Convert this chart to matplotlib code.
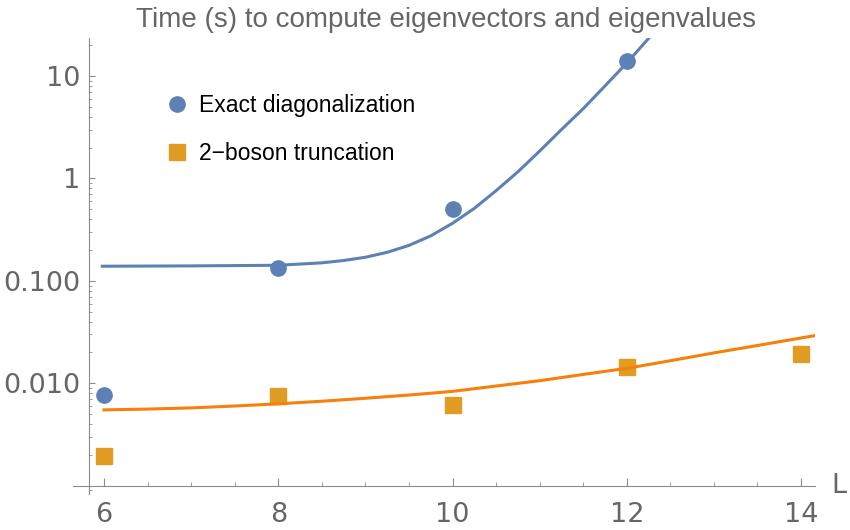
import numpy as np
import matplotlib
matplotlib.use("Agg")
import matplotlib.pyplot as plt
from matplotlib.ticker import LogLocator, MultipleLocator, NullFormatter

plt.rcParams['font.family'] = ['Liberation Sans', 'DejaVu Sans']

# measured times (s) vs system size L
L_pts = [6, 8, 10, 12]
t_exact = [0.00776, 0.134, 0.50, 14.0]

L_pts2 = [6, 8, 10, 12, 14]
t_trunc = [0.00193, 0.00754, 0.0062, 0.01456, 0.0194]

# fitted curves, values
L_fit_exact = [5.98, 7, 8, 8.5, 8.75, 9, 9.25, 9.5, 9.75, 10, 10.25, 10.5,
               10.75, 11, 11.25, 11.5, 11.75, 12, 12.3]
t_fit_exact = [0.139, 0.140, 0.142, 0.150, 0.158, 0.170, 0.190, 0.222, 0.275,
               0.365, 0.51, 0.76, 1.16, 1.85, 3.0, 4.8, 8.0, 13.4, 26.0]

L_fit_trunc = [6, 6.5, 7, 7.5, 8, 8.5, 9, 9.5, 10, 10.5, 11, 11.5, 12, 12.5,
               13, 13.5, 14, 14.16]
t_fit_trunc = [0.00550, 0.00560, 0.00575, 0.00600, 0.00630, 0.00668, 0.00714,
               0.00768, 0.00834, 0.0094, 0.0106, 0.0122, 0.0140, 0.0166,
               0.0198, 0.0234, 0.0277, 0.0292]

yticks = [0.01, 0.1, 1, 10]
ytick_labels = ["0.010", "0.100", "1", "10"]
xticks = [6, 8, 10, 12, 14]

blue = '#5E81B5'
orange_pt = '#E19C24'
orange_ln = '#F5800A'
axis_col = '#8c8c8c'
label_col = '#666666'

fig = plt.figure(figsize=(8.5, 5.3), dpi=100)
ax = fig.add_axes([73/850, 1-494/530, (815-73)/850, (494-38)/530])

ax.plot(L_pts, t_exact, 'o', color=blue, markersize=11, zorder=2,
        label='Exact diagonalization')
ax.plot(L_pts2, t_trunc, 's', color=orange_pt, markersize=11.5, zorder=2,
        label='2\u2212boson truncation')
ax.plot(L_fit_exact, t_fit_exact, color=blue, lw=2.2, zorder=3)
ax.plot(L_fit_trunc, t_fit_trunc, color=orange_ln, lw=2.2, zorder=3)

ax.set_yscale('log')
ax.set_xlim(5.644, 14.16)
ax.set_ylim(0.00083, 23.5)

for s in ['top', 'right']:
    ax.spines[s].set_visible(False)
ax.spines['left'].set_position(('data', 5.828))
ax.spines['bottom'].set_position(('data', 0.001))
for s in ['left', 'bottom']:
    ax.spines[s].set_color(axis_col)
    ax.spines[s].set_linewidth(0.8)

ax.set_xticks(xticks)
ax.xaxis.set_minor_locator(MultipleLocator(0.5))
ax.set_yticks(yticks)
ax.set_yticklabels(ytick_labels)
ax.yaxis.set_minor_locator(LogLocator(base=10, subs=np.arange(2, 10)))
ax.yaxis.set_minor_formatter(NullFormatter())

ax.tick_params(axis='x', which='major', direction='in', length=5.5, width=0.8,
               color=axis_col, labelcolor=label_col, labelsize=19.5, pad=12,
               labelfontfamily='DejaVu Sans')
ax.tick_params(axis='x', which='minor', direction='in', length=3, width=0.6,
               color=axis_col)
ax.tick_params(axis='y', which='major', direction='in', length=4, width=0.8,
               color=axis_col, labelcolor=label_col, labelsize=19.5, pad=6,
               labelfontfamily='DejaVu Sans')
ax.tick_params(axis='y', which='minor', direction='in', length=2, width=0.6,
               color=axis_col)

fig.text(831/850, 1-486/530, 'L', color=label_col, fontsize=19.5,
         family='DejaVu Sans', ha='left', va='center')
fig.text(445.5/850, 1-27/530, 'Time (s) to compute eigenvectors and eigenvalues',
         color=label_col, fontsize=20, ha='center', va='baseline')

fs = 16.5
fpx = fs * 100 / 72
ax.legend(loc='upper left', bbox_to_anchor=((177 - 0.5*fpx)/850, 1-94/530),
          bbox_transform=fig.transFigure, frameon=False, fontsize=fs,
          handlelength=1.0, handletextpad=(199 - 177 - 0.5*fpx)/fpx,
          borderpad=0, borderaxespad=0, labelspacing=1.1, numpoints=1)

fig.savefig('out.png', dpi=100)
